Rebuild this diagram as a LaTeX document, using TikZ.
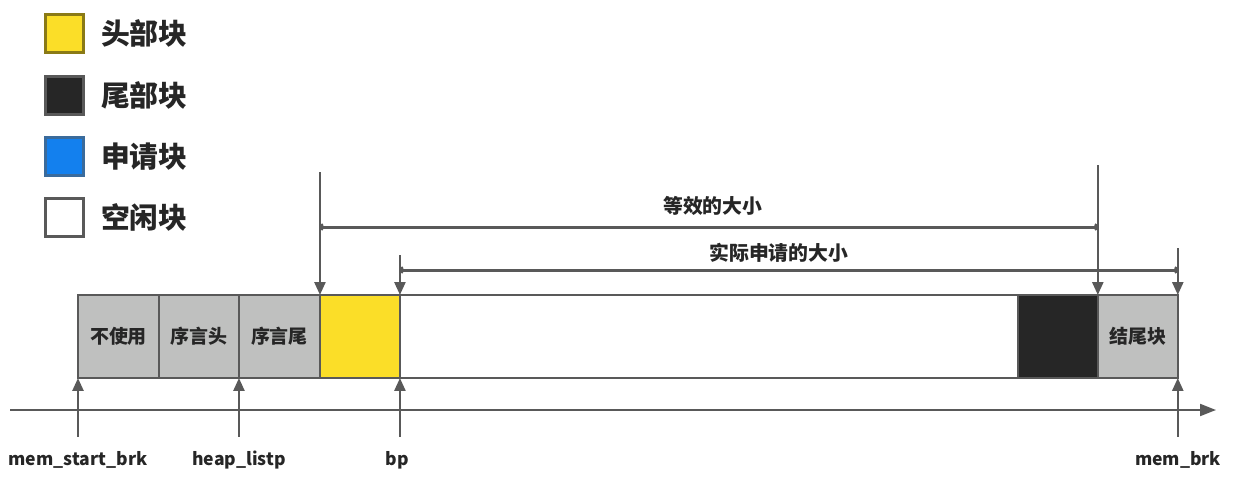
\documentclass[tikz,border=0pt]{standalone}
\usepackage{fontspec}
\setmainfont{Noto Sans CJK SC}
\usetikzlibrary{positioning,arrows.meta}
\definecolor{edge}{HTML}{595959}
\definecolor{ink}{HTML}{262626}
\definecolor{shade}{HTML}{BFC0BF}
\definecolor{headc}{HTML}{FBDE28}
\definecolor{tailc}{HTML}{262626}
\definecolor{usedc}{HTML}{1380EE}

\begin{document}
\begin{tikzpicture}[x=0.02cm,y=-0.02cm,text=ink,
  blk/.style={draw=edge,line width=0.05cm,fill=shade,minimum height=1.66cm,outer sep=0pt,inner sep=0pt,font=\bfseries\fontsize{10.8}{12}\selectfont},
  key/.style={draw=edge,line width=0.05cm,minimum size=0.76cm,inner sep=0pt},
  keytext/.style={inner sep=0pt,font=\bfseries\fontsize{16.4}{18}\selectfont},
  ptrlbl/.style={inner sep=0pt,font=\bfseries\fontsize{10}{12}\selectfont},
  ptr/.style={draw=edge,line width=0.05cm,-{Triangle[length=0.26cm,width=0.22cm]}},
  span/.style={draw=edge,line width=0.06cm,{To[length=2pt]}-{To[length=2pt]}},
  spanlbl/.style={inner sep=0pt,font=\bfseries\fontsize{11.3}{13}\selectfont}]
\useasboundingbox (0,0) rectangle (1236,489);

% legend
\node[key,fill=headc,draw=headc!55!black] (khead) at (64.5,33.5) {};
\node[key,fill=tailc] (ktail) at (64.5,95.5) {};
\node[key,fill=usedc,draw=usedc!45!edge] (kused) at (64.5,156.5) {};
\node[key,fill=white] (kfree) at (64.5,217.5) {};
\node[keytext,right=0.32cm of khead] {头部块};
\node[keytext,right=0.32cm of ktail] {尾部块};
\node[keytext,right=0.32cm of kused] {申请块};
\node[keytext,right=0.32cm of kfree] {空闲块};

% heap blocks
\node[blk,anchor=north west,minimum width=1.62cm] (unused) at (78,295) {不使用};
\node[blk,minimum width=1.6cm,right=0pt of unused] (prohdr) {序言头};
\node[blk,minimum width=1.62cm,right=0pt of prohdr] (proftr) {序言尾};
\node[blk,minimum width=1.6cm,fill=headc,right=0pt of proftr] (head) {};
\node[blk,minimum width=12.36cm,fill=white,right=0pt of head] (free) {};
\node[blk,minimum width=1.6cm,fill=tailc,right=0pt of free] (tail) {};
\node[blk,minimum width=1.6cm,right=0pt of tail] (epi) {结尾块};

% address axis
\coordinate (axl) at (10,410);
\coordinate (axr) at (1216,410);
\draw[draw=edge,line width=0.04cm,-{Triangle[length=0.32cm,width=0.24cm]}] (axl) -- (axr);

% pointers from below
\node[ptrlbl] (mstart) at (78,460) {mem\_start\_brk};
\node[ptrlbl] (hlist) at (239,460) {heap\_listp};
\node[ptrlbl] (bp) at (397,460) {bp};
\node[ptrlbl] (mbrk) at (1178,460) {mem\_brk};
\draw[ptr] ([yshift=-1.18cm]unused.south west) -- (unused.south west);
\draw[ptr] ([yshift=-1.18cm]prohdr.south east) -- (prohdr.south east);
\draw[ptr] ([yshift=-1.18cm]head.south east) -- (head.south east);
\draw[ptr] ([yshift=-1.18cm]epi.south east) -- (epi.south east);

% pointers from above
\draw[ptr] ([yshift=2.46cm]head.north west) -- (head.north west);
\draw[ptr] ([yshift=2.6cm]epi.north west) -- (epi.north west);
\draw[ptr] ([yshift=0.8cm]free.north west) -- (free.north west);
\draw[ptr] ([yshift=0.94cm]epi.north east) -- (epi.north east);

% sizes
\draw[span] ([yshift=1.36cm]head.north west) -- node[spanlbl,above=0.2cm,xshift=0.08cm] {等效的大小} ([yshift=1.36cm]epi.north west);
\draw[span] ([yshift=0.5cm]free.north west) -- node[spanlbl,above=0.12cm,xshift=-0.2cm] {实际申请的大小} ([yshift=0.5cm]epi.north east);
\end{tikzpicture}
\end{document}
